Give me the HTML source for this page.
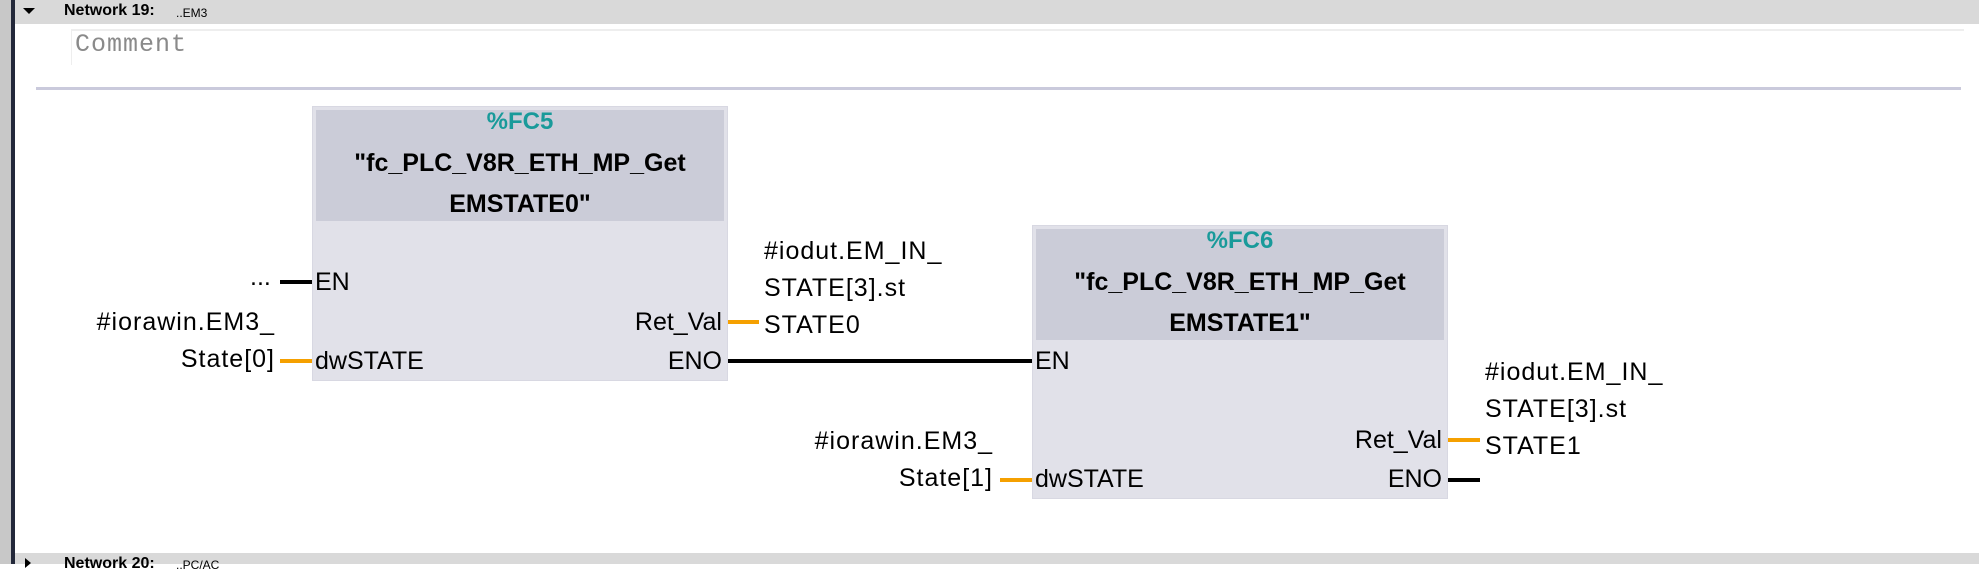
<!DOCTYPE html>
<html><head><meta charset="utf-8">
<style>
*{margin:0;padding:0;box-sizing:border-box}
body{width:1979px;height:564px;background:#fff;position:relative;overflow:hidden;font-family:"Liberation Sans",sans-serif}
.a{position:absolute;white-space:nowrap}
.t{font-size:25px;color:#000;line-height:25px}
.m{font-size:25px;color:#000;line-height:37px;letter-spacing:1px}
.ln{position:absolute;height:4px}
.bk{background:#000}
.or{background:#f5a000}
.box{position:absolute;background:#e1e1e9;border:1px solid #d8d8e2}
.hd{position:absolute;left:3px;right:3px;top:3px;background:#cbccd8}
.fc{font-weight:bold;color:#199a9a;font-size:24px;text-align:center;position:absolute;left:0;right:0}
.tt{font-weight:bold;font-size:25px;text-align:center;position:absolute;left:0;right:0;line-height:41px}
</style></head><body>
<div class="a" style="left:0;top:0;width:1979px;height:24px;background:#d9d9d9"></div>
<div class="a" style="left:0;top:0;width:11px;height:564px;background:#c8c8c8"></div>
<div class="a" style="left:11px;top:0;width:4px;height:564px;background:#23283a"></div>
<div class="a" style="left:23px;top:8px;width:0;height:0;border-left:6px solid transparent;border-right:6px solid transparent;border-top:6px solid #000"></div>
<div class="a" style="left:64px;top:2px;font-size:16px;font-weight:bold;color:#000">Network 19:</div>
<div class="a" style="left:176px;top:6px;font-size:12px;color:#000">..EM3</div>
<div class="a" style="left:71px;top:29px;width:1893px;height:36px;border-left:1px solid #eee;border-top:2px solid #eee"></div>
<div class="a" style="left:75px;top:30px;font-family:'Liberation Mono',monospace;font-size:25px;color:#8a8a8a;letter-spacing:1px">Comment</div>
<div class="a" style="left:36px;top:87px;width:1925px;height:3px;background:#cacadc"></div>

<!-- FC5 -->
<div class="box" style="left:312px;top:106px;width:416px;height:275px">
 <div class="hd" style="height:111px"></div>
 <div class="fc" style="top:1px">%FC5</div>
 <div class="tt" style="top:36px">"fc_PLC_V8R_ETH_MP_Get<br>EMSTATE0"</div>
</div>
<div class="a t" style="left:315px;top:270px">EN</div>
<div class="a t" style="left:315px;top:349px">dwSTATE</div>
<div class="a t" style="right:1257px;top:310px">Ret_Val</div>
<div class="a t" style="right:1257px;top:349px">ENO</div>
<div class="ln bk" style="left:280px;top:280px;width:32px"></div>
<div class="a t" style="left:250px;top:265px">...</div>
<div class="ln or" style="left:280px;top:359px;width:32px"></div>
<div class="a m" style="right:1704px;top:304px;text-align:right">#iorawin.EM3_<br>State[0]</div>
<div class="ln or" style="left:728px;top:320px;width:31px"></div>
<div class="ln bk" style="left:728px;top:359px;width:304px"></div>
<div class="a m" style="left:764px;top:233px">#iodut.EM_IN_<br>STATE[3].st<br>STATE0</div>

<!-- FC6 -->
<div class="box" style="left:1032px;top:225px;width:416px;height:274px">
 <div class="hd" style="height:111px"></div>
 <div class="fc" style="top:1px">%FC6</div>
 <div class="tt" style="top:36px">"fc_PLC_V8R_ETH_MP_Get<br>EMSTATE1"</div>
</div>
<div class="a t" style="left:1035px;top:349px">EN</div>
<div class="a t" style="left:1035px;top:467px">dwSTATE</div>
<div class="a t" style="right:537px;top:428px">Ret_Val</div>
<div class="a t" style="right:537px;top:467px">ENO</div>
<div class="ln or" style="left:1000px;top:478px;width:32px"></div>
<div class="a m" style="right:986px;top:423px;text-align:right">#iorawin.EM3_<br>State[1]</div>
<div class="ln or" style="left:1448px;top:438px;width:32px"></div>
<div class="ln bk" style="left:1448px;top:478px;width:32px"></div>
<div class="a m" style="left:1485px;top:354px">#iodut.EM_IN_<br>STATE[3].st<br>STATE1</div>

<div class="a" style="left:15px;top:553px;width:1964px;height:11px;background:#d9d9d9"></div>
<div class="a" style="left:25px;top:558px;width:0;height:0;border-top:5px solid transparent;border-bottom:5px solid transparent;border-left:6px solid #000"></div>
<div class="a" style="left:64px;top:555px;font-size:16px;font-weight:bold;color:#000">Network 20:</div>
<div class="a" style="left:176px;top:558px;font-size:12px;color:#000">..PC/AC</div>
</body></html>
